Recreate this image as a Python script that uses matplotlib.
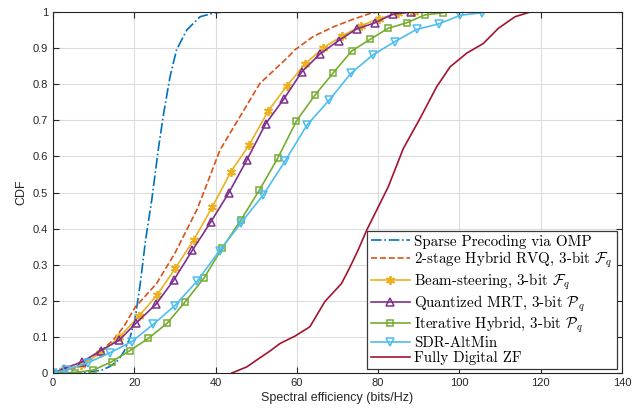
import matplotlib
matplotlib.use("Agg")
import matplotlib.pyplot as plt

plt.rcParams["font.family"] = ["Liberation Sans", "DejaVu Sans"]
plt.rcParams["mathtext.fontset"] = "cm"

# CDF curves (x: bits/Hz, y: CDF)
omp_x = [0, 8, 12, 14, 16, 17.5, 19, 20.2, 21.5, 22.8, 24.3, 25.9, 27.1, 28.8, 30.4, 32.9, 36.2, 39.9, 42]
omp_y = [0, 0.002, 0.008, 0.018, 0.035, 0.06, 0.1, 0.15, 0.25, 0.37, 0.479, 0.618, 0.71, 0.821,
         0.895, 0.95, 0.987, 0.998, 1.0]

rvq_x = [0, 5, 8, 11.6, 14.8, 17.5, 20.2, 25.5, 30, 35.4, 37, 41.1, 46, 50.9, 57.9, 59.5, 64, 69,
         73.9, 78, 80]
rvq_y = [0, 0.012, 0.03, 0.059, 0.091, 0.13, 0.182, 0.248, 0.332, 0.452, 0.498, 0.618, 0.71, 0.802,
         0.876, 0.895, 0.932, 0.959, 0.98, 0.996, 1.0]

beam_x = [0, 2.4, 7.0, 11.6, 16.3, 21.2, 25.6, 30.1, 34.6, 39.2, 43.8, 48.3, 52.9, 57.5, 62.0, 66.5,
          71.2, 75.8, 80.2, 85.0, 88.8]
beam_y = [0, 0.007, 0.022, 0.055, 0.099, 0.158, 0.216, 0.290, 0.368, 0.460, 0.558, 0.632, 0.725,
          0.795, 0.856, 0.901, 0.934, 0.962, 0.982, 0.996, 1.0]

mrt_x = [0, 2.7, 7.2, 11.7, 16.3, 20.5, 25.3, 29.7, 34.3, 38.8, 43.2, 47.7, 52.3, 56.8, 61.2, 65.7,
         70.3, 74.7, 79.2, 83.6, 88.1]
mrt_y = [0, 0.012, 0.031, 0.062, 0.091, 0.139, 0.19, 0.257, 0.34, 0.418, 0.498, 0.590, 0.690, 0.759,
         0.834, 0.884, 0.921, 0.953, 0.970, 0.994, 1.0]

iter_x = [0, 5.3, 9.9, 14.4, 18.9, 23.5, 28.1, 32.6, 37.2, 41.7, 46.3, 50.8, 55.3, 59.9, 64.4, 69.0,
          73.5, 78.0, 82.5, 87.0, 91.5, 96.0]
iter_y = [0, 0.001, 0.008, 0.031, 0.062, 0.096, 0.138, 0.198, 0.264, 0.347, 0.425, 0.507, 0.595,
          0.698, 0.769, 0.832, 0.892, 0.924, 0.955, 0.970, 0.992, 0.998]

sdr_x = [0, 3.2, 8.5, 14.0, 19.4, 24.7, 30.0, 35.5, 41.0, 46.3, 51.7, 57.1, 62.5, 67.9, 73.3, 78.7,
         84.1, 89.5, 94.9, 100.2, 105.6]
sdr_y = [0, 0.008, 0.028, 0.056, 0.087, 0.135, 0.187, 0.255, 0.339, 0.416, 0.493, 0.587, 0.687,
         0.755, 0.830, 0.881, 0.918, 0.952, 0.967, 0.991, 0.998]

zf_x = [44, 47.7, 50, 53.4, 55.9, 59.5, 63.2, 66.9, 71, 73.1, 75.1, 77.2, 82.5, 86.2, 90.3, 94.4,
        97.7, 101.8, 105.9, 109.6, 113.7, 117.4]
zf_y = [0, 0.017, 0.035, 0.061, 0.082, 0.102, 0.128, 0.198, 0.248, 0.294, 0.341, 0.396, 0.516,
        0.622, 0.705, 0.793, 0.848, 0.886, 0.913, 0.955, 0.987, 1.0]

labels = [
    "Sparse Precoding via OMP",
    r"2-stage Hybrid RVQ, 3-bit $\mathcal{F}_q$",
    r"Beam-steering, 3-bit $\mathcal{F}_q$",
    r"Quantized MRT, 3-bit $\mathcal{P}_q$",
    r"Iterative Hybrid, 3-bit $\mathcal{P}_q$",
    "SDR-AltMin",
    "Fully Digital ZF",
]

fig = plt.figure(figsize=(6.39, 4.17), dpi=100)
ax = fig.add_axes([0.0829, 0.1055, 0.8905, 0.8657])

lw = 1.2
ax.plot(omp_x, omp_y, "-.", color="#0072BD", lw=lw, label=labels[0])
ax.plot(rvq_x, rvq_y, "--", color="#D95319", lw=lw, label=labels[1])
# MATLAB-style asterisk marker
ax.plot(beam_x, beam_y, "-", color="#EDB120", lw=lw, marker=(6, 2, 0), ms=6.5, mew=1.3,
        label=labels[2])
ax.plot(mrt_x, mrt_y, "-", color="#7E2F8E", lw=lw, marker="^", ms=6, mfc="none", mew=1.1,
        label=labels[3])
ax.plot(iter_x, iter_y, "-", color="#77AC30", lw=lw, marker="s", ms=4.8, mfc="none", mew=1.1,
        label=labels[4])
ax.plot(sdr_x, sdr_y, "-", color="#4DBEEE", lw=lw, marker="v", ms=6, mfc="none", mew=1.1,
        label=labels[5])
ax.plot(zf_x, zf_y, "-", color="#A2142F", lw=lw, label=labels[6])

ax.set_xlim(0, 140)
ax.set_ylim(0, 1)
ax.set_xticks(range(0, 141, 20))
ax.set_yticks([i / 10 for i in range(11)])
ax.set_yticklabels(["0"] + [f"0.{i}" for i in range(1, 10)] + ["1"])
ax.grid(True, color="#dcdcdc", lw=0.8)
ax.set_axisbelow(True)
ax.tick_params(direction="in", top=True, right=True, length=4, width=0.8,
               labelsize=8, colors="#262626")
for s in ax.spines.values():
    s.set_color("#262626")
    s.set_linewidth(0.8)

ax.set_xlabel("Spectral efficiency (bits/Hz)", fontsize=9, color="#262626", labelpad=3)
ax.set_ylabel("CDF", fontsize=9, color="#262626")

leg = ax.legend(loc="lower right", bbox_to_anchor=(0.991, 0.011), borderaxespad=0,
                prop={"family": "cmr10", "size": 10.8}, handlelength=2.6, handletextpad=0.3,
                labelspacing=0.08, borderpad=0.25, fancybox=False, framealpha=1,
                edgecolor="#3a3a3a")
leg.get_frame().set_linewidth(0.9)

fig.savefig("out.png", dpi=100)
